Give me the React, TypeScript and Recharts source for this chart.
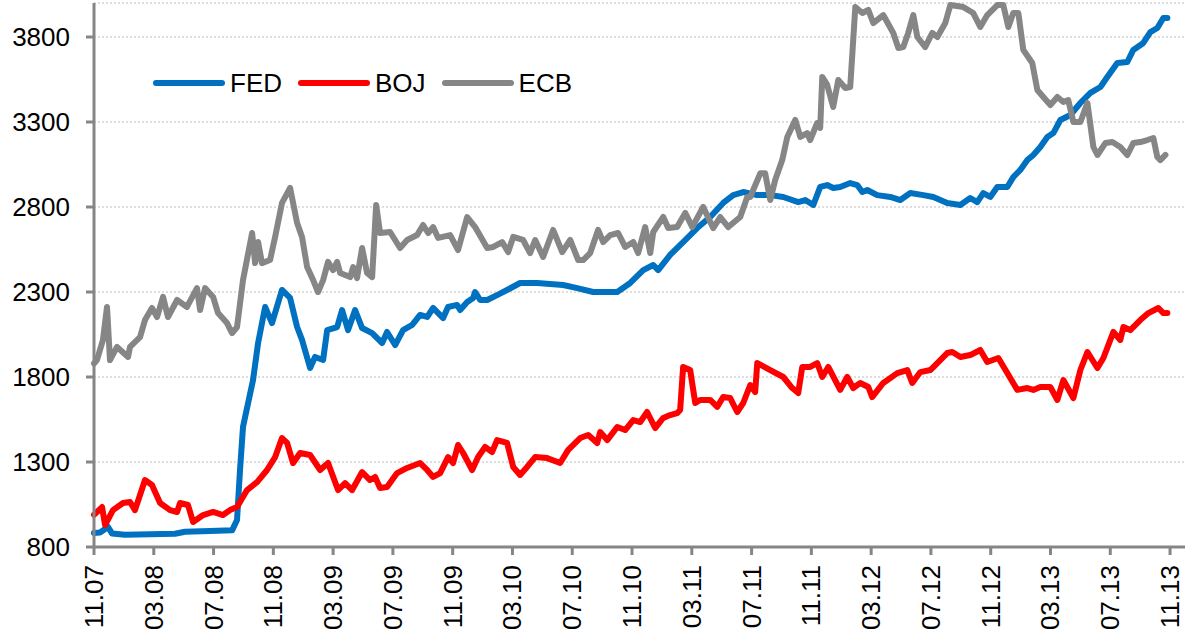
import { CartesianGrid, Legend, Line, LineChart, XAxis, YAxis } from 'recharts';

// months counted from Nov 2007
const monthTicks = [0, 4, 8, 12, 16, 20, 24, 28, 32, 36, 40, 44, 48, 52, 56, 60, 64, 68, 72];
const monthLabels = [
  '11.07', '03.08', '07.08', '11.08', '03.09', '07.09', '11.09', '03.10', '07.10', '11.10',
  '03.11', '07.11', '11.11', '03.12', '07.12', '11.12', '03.13', '07.13', '11.13',
];
const valueTicks = [800, 1300, 1800, 2300, 2800, 3300, 3800];

// [month, balance sheet]
const fedSeries: [number, number][] = [
  [0, 882], [0.4, 885], [0.94, 918], [1.2, 880], [2.07, 872], [3.75, 875], [5.42, 878],
  [6.09, 890], [7.76, 894], [9.24, 898], [9.57, 959], [9.77, 1253], [9.97, 1506],
  [10.31, 1647], [10.64, 1782], [10.98, 2000], [11.45, 2212], [11.91, 2117], [12.58, 2312],
  [13.12, 2265], [13.59, 2094], [13.92, 2018], [14.46, 1853], [14.79, 1918], [15.33, 1900],
  [15.6, 2076], [16.27, 2094], [16.6, 2194], [17.0, 2076], [17.47, 2194], [17.94, 2088],
  [18.61, 2058], [19.28, 2000], [19.61, 2065], [20.15, 1988], [20.68, 2076], [21.29, 2106],
  [21.82, 2165], [22.29, 2153], [22.69, 2206], [23.36, 2147], [23.69, 2212], [24.3, 2224],
  [24.5, 2194], [24.97, 2241], [25.37, 2265], [25.5, 2300], [25.84, 2253], [26.31, 2253],
  [26.97, 2282], [27.64, 2312], [28.51, 2353], [29.65, 2353], [31.39, 2341], [32.33, 2323],
  [33.4, 2300], [35.01, 2300], [35.88, 2353], [36.75, 2429], [37.42, 2459], [37.75, 2429],
  [38.55, 2518], [39.42, 2594], [40.36, 2676], [41.23, 2741], [42.1, 2824], [42.77, 2870],
  [43.44, 2888], [44.38, 2870], [45.25, 2870], [46.12, 2859], [47.12, 2829], [47.59, 2841],
  [48.13, 2812], [48.59, 2918], [49.06, 2929], [49.46, 2912], [49.93, 2918], [50.6, 2941],
  [51.07, 2929], [51.41, 2888], [51.74, 2900], [52.41, 2870], [53.28, 2859], [53.95, 2841],
  [54.62, 2882], [55.49, 2870], [56.16, 2859], [57.09, 2823], [57.97, 2812], [58.63, 2853],
  [59.1, 2829], [59.5, 2882], [59.97, 2859], [60.44, 2918], [61.11, 2918], [61.51, 2976],
  [61.98, 3018], [62.45, 3076], [62.85, 3106], [63.32, 3153], [63.79, 3212], [64.19, 3235],
  [64.66, 3312], [65.33, 3341], [66.0, 3412], [66.67, 3471], [67.34, 3506], [67.8, 3565],
  [68.47, 3647], [69.14, 3653], [69.54, 3724], [70.21, 3765], [70.68, 3829], [71.15, 3853],
  [71.55, 3912], [71.82, 3912],
];

const bojSeries: [number, number][] = [
  [0, 990], [0.2, 1006], [0.54, 1035], [0.74, 929], [1.27, 1017], [1.94, 1059], [2.41, 1065],
  [2.74, 1017], [3.08, 1106], [3.41, 1194], [3.88, 1165], [4.42, 1059], [5.09, 1017],
  [5.56, 1006], [5.76, 1059], [6.29, 1047], [6.63, 947], [7.3, 988], [7.97, 1006], [8.63, 988],
  [9.1, 1017], [9.57, 1035], [10.24, 1135], [10.91, 1182], [11.58, 1253], [12.12, 1329],
  [12.58, 1441], [12.92, 1412], [13.32, 1294], [13.79, 1353], [14.46, 1341], [15.13, 1253],
  [15.66, 1294], [16.33, 1135], [16.8, 1176], [17.27, 1135], [17.94, 1241], [18.47, 1194],
  [18.81, 1212], [19.14, 1147], [19.61, 1153], [20.28, 1235], [20.95, 1265], [21.82, 1294],
  [22.29, 1253], [22.69, 1212], [23.16, 1235], [23.69, 1329], [24.03, 1294], [24.36, 1400],
  [24.7, 1353], [25.3, 1253], [25.7, 1329], [26.17, 1388], [26.64, 1359], [26.97, 1429],
  [27.64, 1412], [28.05, 1271], [28.51, 1224], [28.98, 1271], [29.52, 1329], [30.32, 1323],
  [31.19, 1294], [31.73, 1371], [32.53, 1441], [33.07, 1459], [33.67, 1412], [33.87, 1476],
  [34.34, 1429], [35.01, 1506], [35.54, 1488], [36.08, 1547], [36.55, 1535], [37.01, 1594],
  [37.55, 1500], [38.09, 1559], [38.55, 1576], [39.02, 1588], [39.22, 1606], [39.42, 1859],
  [39.89, 1841], [40.23, 1647], [40.56, 1665], [41.23, 1665], [41.7, 1624], [42.1, 1682],
  [42.57, 1676], [43.04, 1594], [43.44, 1647], [43.91, 1753], [44.24, 1712], [44.38, 1882],
  [45.25, 1841], [46.12, 1800], [46.72, 1735], [47.12, 1706], [47.39, 1859], [47.92, 1859],
  [48.39, 1882], [48.73, 1800], [49.13, 1859], [49.93, 1724], [50.4, 1800], [50.8, 1735],
  [51.27, 1765], [51.81, 1741], [52.07, 1682], [52.81, 1765], [53.75, 1823], [54.42, 1841],
  [54.75, 1765], [55.29, 1829], [55.96, 1841], [56.43, 1882], [57.09, 1941], [57.43, 1947],
  [57.97, 1918], [58.63, 1929], [59.3, 1959], [59.77, 1888], [60.51, 1912], [61.11, 1823],
  [61.78, 1724], [62.45, 1735], [62.85, 1724], [63.32, 1741], [63.99, 1741], [64.46, 1665],
  [64.86, 1782], [65.53, 1676], [66.0, 1841], [66.47, 1947], [67.14, 1853], [67.54, 1912],
  [68.21, 2065], [68.67, 2018], [68.88, 2094], [69.34, 2076], [70.01, 2135], [70.55, 2176],
  [71.22, 2206], [71.55, 2176], [71.82, 2176],
];

const ecbSeries: [number, number][] = [
  [0, 1880], [0.2, 1900], [0.6, 2018], [0.87, 2212], [1.07, 1900], [1.54, 1977], [2.28, 1918],
  [2.41, 1977], [3.08, 2035], [3.41, 2135], [3.88, 2206], [4.22, 2153], [4.62, 2271],
  [4.95, 2153], [5.56, 2253], [6.22, 2212], [6.89, 2323], [7.1, 2194], [7.43, 2323],
  [7.97, 2271], [8.3, 2176], [8.9, 2117], [9.24, 2058], [9.57, 2094], [9.97, 2370],
  [10.58, 2647], [10.78, 2470], [10.98, 2594], [11.24, 2470], [11.78, 2488], [12.12, 2624],
  [12.58, 2824], [13.12, 2912], [13.59, 2706], [13.92, 2624], [14.26, 2447], [14.66, 2370],
  [14.99, 2300], [15.33, 2370], [15.66, 2477], [16.0, 2429], [16.27, 2477], [16.47, 2412],
  [17.14, 2388], [17.34, 2447], [17.6, 2382], [17.94, 2559], [18.27, 2412], [18.61, 2388],
  [18.88, 2812], [19.14, 2647], [19.81, 2653], [20.48, 2559], [20.95, 2606], [21.62, 2635],
  [22.02, 2694], [22.36, 2647], [22.69, 2682], [23.03, 2618], [23.83, 2635], [24.36, 2547],
  [24.97, 2741], [25.5, 2682], [26.31, 2559], [26.71, 2565], [27.31, 2594], [27.71, 2535],
  [28.05, 2624], [28.71, 2606], [29.18, 2529], [29.52, 2606], [30.05, 2506], [30.72, 2665],
  [31.33, 2535], [31.86, 2606], [32.4, 2488], [32.73, 2488], [33.2, 2529], [33.73, 2665],
  [34.07, 2594], [34.54, 2635], [35.07, 2647], [35.54, 2565], [36.08, 2594], [36.41, 2529],
  [36.88, 2682], [37.22, 2529], [37.42, 2653], [38.09, 2741], [38.42, 2676], [39.02, 2682],
  [39.56, 2765], [40.03, 2682], [40.76, 2800], [41.43, 2676], [41.9, 2741], [42.44, 2682],
  [43.24, 2741], [43.71, 2859], [43.91, 2859], [44.58, 2998], [44.91, 2998], [45.25, 2841],
  [45.58, 2959], [46.05, 3076], [46.39, 3212], [46.92, 3312], [47.26, 3212], [47.72, 3235],
  [47.92, 3194], [48.39, 3294], [48.59, 3265], [48.73, 3565], [49.06, 3518], [49.46, 3388],
  [49.8, 3547], [50.27, 3500], [50.6, 3506], [50.94, 3976], [51.41, 3941], [51.81, 3959],
  [52.14, 3882], [52.81, 3929], [53.48, 3824], [53.82, 3735], [54.15, 3741], [54.48, 3824],
  [54.82, 3929], [55.09, 3800], [55.62, 3741], [56.09, 3824], [56.43, 3800], [56.96, 3882],
  [57.3, 3988], [58.17, 3976], [58.83, 3941], [59.3, 3859], [59.77, 3929], [60.44, 3988],
  [60.84, 3988], [61.18, 3859], [61.51, 3941], [61.85, 3941], [62.18, 3724], [62.78, 3647],
  [63.12, 3488], [63.52, 3447], [63.99, 3400], [64.46, 3447], [64.86, 3418], [65.19, 3429],
  [65.53, 3300], [66.0, 3300], [66.47, 3412], [66.87, 3153], [67.14, 3106], [67.67, 3176],
  [68.14, 3182], [68.67, 3153], [69.14, 3106], [69.54, 3176], [70.01, 3182], [70.48, 3194],
  [70.88, 3206], [71.15, 3094], [71.35, 3076], [71.69, 3106],
];

const FONT = '"Liberation Sans", Arial, sans-serif';

const series = [
  { name: 'FED', color: '#0070c0', points: fedSeries },
  { name: 'BOJ', color: '#ff0000', points: bojSeries },
  { name: 'ECB', color: '#868686', points: ecbSeries },
];

function MonthTick({ x, y, payload }: any) {
  const label = monthLabels[monthTicks.indexOf(payload.value)];
  return (
    <text
      x={x}
      y={y}
      transform={`rotate(-90, ${x}, ${y})`}
      textAnchor="end"
      dominantBaseline="central"
      fontSize={26}
      fontFamily={FONT}
      fill="#000"
    >
      {label}
    </text>
  );
}

function LegendRow() {
  return (
    <div style={{ display: 'flex', alignItems: 'center', height: 30, fontFamily: FONT, fontSize: 26 }}>
      {series.map((s) => (
        <div key={s.name} style={{ display: 'flex', alignItems: 'center', marginRight: 16 }}>
          <svg width={72} height={8}>
            <line x1={3} y1={4} x2={69} y2={4} stroke={s.color} strokeWidth={6} strokeLinecap="round" />
          </svg>
          <span style={{ marginLeft: 5, color: '#000', lineHeight: '30px' }}>{s.name}</span>
        </div>
      ))}
    </div>
  );
}

export default function App() {
  return (
    <div style={{ position: 'absolute', left: 0, top: 0, background: '#fff' }}>
      <LineChart width={1188} height={639} margin={{ top: 3, right: 3, left: 0, bottom: 0 }}>
        <CartesianGrid vertical={false} stroke="#bdbdbd" strokeDasharray="2 2" />
        <XAxis
          type="number"
          dataKey="t"
          domain={[0, 73]}
          ticks={monthTicks}
          interval={0}
          height={92}
          tick={<MonthTick />}
          tickSize={8}
          tickMargin={10}
          stroke="#868686"
          strokeWidth={3}
          allowDuplicatedCategory={false}
        />
        <YAxis
          type="number"
          domain={[800, 4000]}
          ticks={valueTicks}
          interval={0}
          width={94}
          tickSize={8}
          tickMargin={16}
          stroke="#868686"
          strokeWidth={3}
          tick={{ fontSize: 26, fontFamily: FONT, fill: '#000' }}
        />
        <Legend
          layout="vertical"
          align="center"
          verticalAlign="middle"
          content={() => <LegendRow />}
          wrapperStyle={{ left: 153, top: 68, width: 500 }}
        />
        {series.map((s) => (
          <Line
            key={s.name}
            name={s.name}
            data={s.points.map(([t, v]) => ({ t, v }))}
            dataKey="v"
            type="linear"
            stroke={s.color}
            strokeWidth={6}
            strokeLinejoin="round"
            strokeLinecap="round"
            dot={false}
            activeDot={false}
            isAnimationActive={false}
          />
        ))}
      </LineChart>
    </div>
  );
}
